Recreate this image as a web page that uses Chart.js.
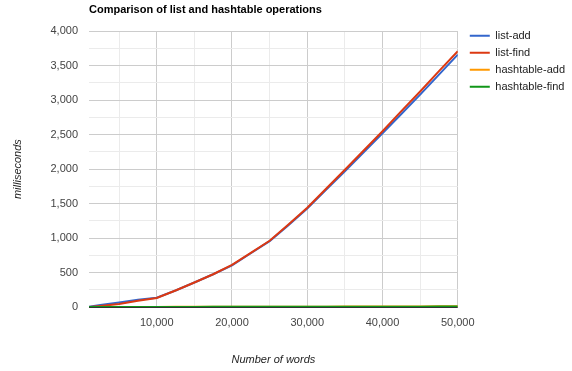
<!DOCTYPE html>
<html>
<head>
<meta charset="utf-8">
<script src="https://cdn.jsdelivr.net/npm/chart.js@4.4.1/dist/chart.umd.min.js"></script>
<style>
  html, body { margin: 0; padding: 0; background: #fff; }
</style>
</head>
<body>
<canvas id="chart" width="572" height="371"></canvas>
<script>
// number of words per run
const words = [1000, 2500, 5000, 7500, 10000, 12500, 15000, 17500, 20000, 22500, 25000,
               27500, 30000, 32500, 35000, 37500, 40000, 42500, 45000, 47500, 50000];

// milliseconds
const listAdd = [2, 30, 65, 105, 135, 240, 355, 475, 605, 780, 955,
                 1185, 1430, 1700, 1970, 2245, 2520, 2800, 3080, 3370, 3660];
const listFind = [0, 15, 45, 90, 130, 240, 355, 475, 610, 785, 960,
                  1195, 1440, 1715, 1990, 2270, 2550, 2840, 3125, 3420, 3710];
const hashtableAdd = [0, 0, 1, 1, 1, 2, 2, 2, 3, 3, 4, 4, 5, 5, 6, 6, 7, 8, 9, 10, 11];
const hashtableFind = [0, 0, 0, 1, 1, 1, 1, 2, 2, 2, 2, 3, 3, 3, 4, 4, 4, 5, 5, 6, 6];

const seriesNames = ['list-add', 'list-find', 'hashtable-add', 'hashtable-find'];
const xGridTicks = [5000, 10000, 15000, 20000, 25000, 30000, 35000, 40000, 45000, 50000];

const chartTitle = 'Comparison of list and hashtable operations';
const xTitle = 'Number of words';
const yTitle = 'milliseconds';

const FONT = 'Arial, "Liberation Sans", sans-serif';
const colors = ['#3366cc', '#dc3912', '#ff9900', '#109618'];
const seriesData = [listAdd, listFind, hashtableAdd, hashtableFind];

const datasets = seriesNames.map(function(name, i) {
  return {
    label: name,
    data: words.map(function(w, j) { return { x: w, y: seriesData[i][j] }; }),
    borderColor: colors[i],
    backgroundColor: colors[i],
    borderWidth: 2,
    pointRadius: 0,
    tension: 0,
    order: seriesNames.length - i   // later series on top, like the original
  };
});

// the legend sits a little further from the plot than chart.js puts it
const legendNudge = {
  id: 'legendNudge',
  afterLayout: function(chart) {
    if (chart.legend) {
      chart.legend.left += 6;
      chart.legend.right += 6;
    }
  }
};

new Chart(document.getElementById('chart'), {
  type: 'line',
  data: { datasets: datasets },
  plugins: [legendNudge],
  options: {
    responsive: false,
    animation: false,
    layout: { padding: { top: 0, left: 0, right: 3, bottom: 0 } },
    plugins: {
      tooltip: { enabled: false },
      title: {
        display: true,
        text: chartTitle,
        align: 'start',
        fullSize: false,
        color: '#000',
        font: { family: FONT, size: 11, weight: 'bold' },
        padding: { top: 3, bottom: 15 }
      },
      legend: {
        position: 'right',
        align: 'start',
        title: { display: true, text: '', font: { family: FONT, size: 11 }, padding: { top: 11, bottom: 0 } },
        labels: {
          usePointStyle: true,
          pointStyle: 'line',
          pointStyleWidth: 20,
          padding: 6,
          color: '#222',
          font: { family: FONT, size: 11 },
          sort: function(a, b) { return a.datasetIndex - b.datasetIndex; }
        }
      }
    },
    scales: {
      x: {
        type: 'linear',
        min: 1000,
        max: 50000,
        afterBuildTicks: function(scale) {
          scale.ticks = xGridTicks.map(function(v) { return { value: v }; });
        },
        afterFit: function(scale) { scale.height = 64; },
        border: { display: false },
        grid: {
          drawTicks: false,
          color: function(ctx) {
            return ctx.tick && ctx.tick.value % 10000 === 0 ? '#cccccc' : '#ebebeb';
          }
        },
        ticks: {
          autoSkip: false,
          maxRotation: 0,
          padding: 9,
          color: '#444',
          font: { family: FONT, size: 11 },
          callback: function(v) { return v % 10000 === 0 ? v.toLocaleString('en-US') : ''; }
        },
        title: {
          display: true,
          text: xTitle,
          color: '#222',
          font: { family: FONT, size: 11, style: 'italic' },
          padding: { top: 4, bottom: 4 }
        }
      },
      y: {
        min: 0,
        max: 4000,
        afterFit: function(scale) { scale.width = 89; },
        border: { display: false },
        grid: {
          drawTicks: false,
          color: function(ctx) {
            if (!ctx.tick) return '#ebebeb';
            if (ctx.tick.value === 0) return '#333333';
            return ctx.tick.value % 500 === 0 ? '#cccccc' : '#ebebeb';
          }
        },
        ticks: {
          stepSize: 250,
          padding: 11,
          color: '#444',
          font: { family: FONT, size: 11 },
          callback: function(v) { return v % 500 === 0 ? v.toLocaleString('en-US') : ''; }
        },
        title: {
          display: true,
          text: yTitle,
          color: '#222',
          font: { family: FONT, size: 11, style: 'italic' },
          padding: { top: 11, bottom: 4 }
        }
      }
    }
  }
});
</script>
</body>
</html>
